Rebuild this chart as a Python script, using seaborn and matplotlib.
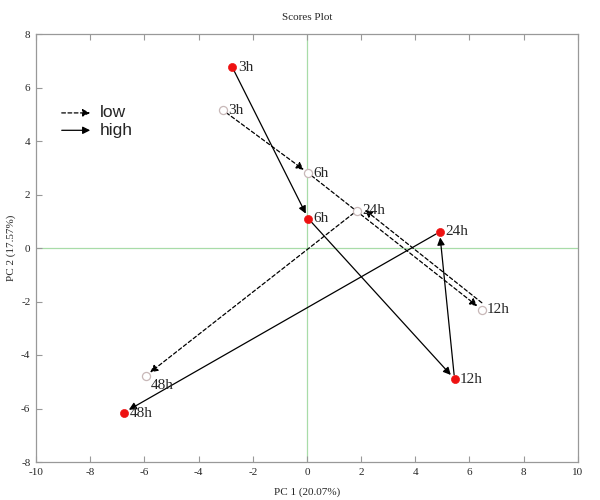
import matplotlib
matplotlib.use("Agg")
import matplotlib.pyplot as plt
import matplotlib.transforms as mtransforms
import seaborn as sns
import pandas as pd

times = ["3h", "6h", "12h", "24h", "48h"]
high_pc1 = [-2.75, 0.05, 5.45, 4.9, -6.75]
high_pc2 = [6.75, 1.1, -4.9, 0.6, -6.15]
low_pc1 = [-3.1, 0.05, 6.45, 1.85, -5.95]
low_pc2 = [5.15, 2.8, -2.3, 1.4, -4.78]
x_ticks = [-10, -8, -6, -4, -2, 0, 2, 4, 6, 8, 10]
y_ticks = [-8, -6, -4, -2, 0, 2, 4, 6, 8]

df = pd.DataFrame({
    "pc1": high_pc1 + low_pc1,
    "pc2": high_pc2 + low_pc2,
    "time": times * 2,
    "group": ["high"] * 5 + ["low"] * 5,
})

sns.set_style("white")
serif = ["Liberation Serif", "DejaVu Serif"]

fig = plt.figure(figsize=(6, 5), dpi=100)
ax = fig.add_axes([0.06, 0.076, 0.903, 0.856])

ax.axhline(0, color="#a8dca8", lw=0.9, zorder=0)
ax.axvline(0, color="#a8dca8", lw=0.9, zorder=0)

# arrows
for grp, ls in [("low", (0, (3, 2))), ("high", "-")]:
    sub = df[df.group == grp].reset_index(drop=True)
    for i in range(len(sub) - 1):
        tr = ax.transData
        if grp == "low" and i == 2:
            tr = mtransforms.offset_copy(ax.transData, fig=fig, x=2.5, y=3.0, units="points")
        ax.annotate("", xy=(sub.pc1[i + 1], sub.pc2[i + 1]),
                    xytext=(sub.pc1[i], sub.pc2[i]),
                    xycoords=tr, textcoords=tr,
                    arrowprops=dict(arrowstyle="-|>", color="black", lw=0.9,
                                    linestyle=ls, shrinkA=3, shrinkB=4,
                                    mutation_scale=11),
                    zorder=2)

sns.scatterplot(data=df[df.group == "high"], x="pc1", y="pc2", ax=ax,
                color="#ee1111", edgecolor="#ee1111", s=34, zorder=3, legend=False)
sns.scatterplot(data=df[df.group == "low"], x="pc1", y="pc2", ax=ax,
                facecolor="white", edgecolor="#c8b8b8", linewidth=0.9, s=34,
                zorder=3, legend=False)

for _, r in df.iterrows():
    dy = -0.35 if r.time == "48h" and r.group == "low" else 0
    dy = -0.05 if (r.time == "48h" and r.group == "high") else dy
    ax.text(r.pc1 + 0.2, r.pc2 + dy, r.time, fontsize=11, family=serif,
            va="center", ha="left", zorder=4)

# legend
sans = ["Liberation Sans", "DejaVu Sans"]
ax.annotate("", xy=(-8.0, 5.05), xytext=(-9.05, 5.05),
            arrowprops=dict(arrowstyle="-|>", color="black", lw=0.9,
                            linestyle=(0, (3, 2)), mutation_scale=11, shrinkA=0, shrinkB=0))
ax.annotate("", xy=(-8.0, 4.4), xytext=(-9.05, 4.4),
            arrowprops=dict(arrowstyle="-|>", color="black", lw=0.9,
                            mutation_scale=11, shrinkA=0, shrinkB=0))
ax.text(-7.65, 5.05, "low", fontsize=12.5, family=sans, va="center")
ax.text(-7.65, 4.4, "high", fontsize=12.5, family=sans, va="center")

ax.set_xlim(-10, 10)
ax.set_ylim(-8, 8)
ax.set_xticks(x_ticks)
ax.set_yticks(y_ticks)
ax.set_xticklabels([str(t) for t in x_ticks], family=serif, fontsize=8)
ax.set_yticklabels([str(t) for t in y_ticks], family=serif, fontsize=8)
ax.tick_params(direction="in", length=4, color="#999999", width=0.8,
               top=True, right=False, bottom=True, left=True, pad=4)
for s in ax.spines.values():
    s.set_color("#999999")
    s.set_linewidth(0.9)
ax.set_xlabel("PC 1 (20.07%)", family=serif, fontsize=8, labelpad=8)
ax.set_ylabel("PC 2 (17.57%)", family=serif, fontsize=8, labelpad=4)
ax.set_title("Scores Plot", family=serif, fontsize=8, pad=10)

fig.savefig("out.png", dpi=100)
